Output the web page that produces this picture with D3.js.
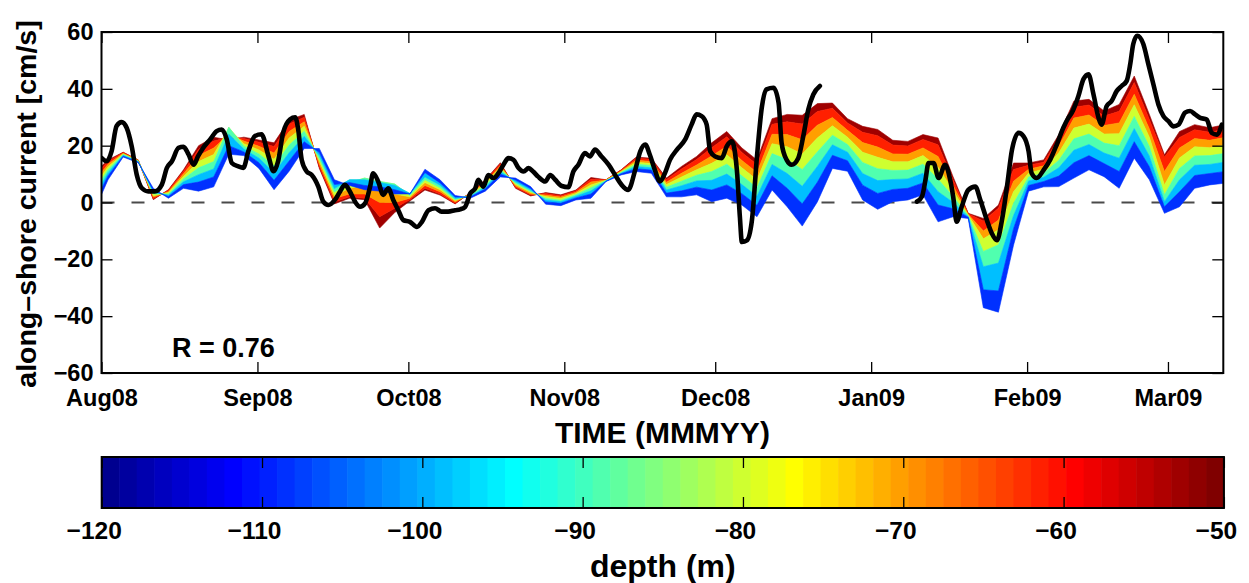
<!DOCTYPE html>
<html><head><meta charset="utf-8">
<script src="https://cdn.jsdelivr.net/npm/d3@7"></script>
<style>
body{margin:0;background:#fff;}
text{font-family:"Liberation Sans",Arial,Helvetica,sans-serif;font-weight:bold;fill:#000;}
</style>
</head><body>
<svg id="chart" width="1249" height="583"></svg>
<script>
// ---------- DATA ----------
// Profile samples every 3 days, first sample 2008-07-30 07:12 UTC
const profileStart = Date.UTC(2008, 6, 30, 7, 12);
const profileStepDays = 3;
// along-shore velocity (cm/s) at each depth level, deepest first
const vel114 = [-4,8,16,14,5,1.5,5,4,5.5,17, 16.5,12,4.5,11,19,19,8,6,4.5,4, 3,3,11.7,8,2.5,1.5,4,9,8.6,5.6, -0.6,-1.1,0.9,1.5,7.4,9.7,10.9,10.3,2,2, 2.7,0.3,1.5,-0.9,-5,4.4,-1.5,-8.3,0.2,12, 11,0.9,-2.4,0.3,0.9,2.7,-6.8,-5,-5.6,-37, -38.6,-15,4,5.5,5.6,8.6,11.5,9.1,5,15.6, 8,-3.8,-1.5,5,6.2,6.8];
const vel104 = [-1.2,9.4,16.3,14.2,4.2,2.1,6.3,7.2,9,20, 17.8,14,7.8,14.6,21.4,17.6,6.3,7,6,5.5, 4.5,3,10.5,6.9,1.9,1.9,4.8,10,7.9,4.9, 0.2,-0.3,1.6,3,7.5,10.1,11.9,11.4,3.3,4.1, 5.4,4.4,6.2,3.1,-1,9.4,5,-0.5,7.1,16.6, 14.7,6.1,3.2,4.6,5,6.9,-0.9,-2.2,-5.2,-30.7, -31.1,-9.2,6,7.4,9.3,14,16.5,13.7,10.9,21.4, 12.6,-1.5,3.8,9.5,10.2,10.9];
const vel94 = [1,10.5,16.6,14.4,3.6,2.6,7.3,9.8,11.8,24, 18.8,15.6,10.4,17.5,23.3,16.5,4.9,8,8,7, 6,3.2,9,6.1,1.4,2.2,5.4,10.8,7.3,4.4, 0.9,0.3,2.2,4.1,7.6,10.3,12.7,12.2,4.4,5.9, 7.6,7.8,10,6.3,2.2,13.4,10.2,5.7,12.7,20.3, 17.7,10.2,7.7,8.1,8.3,10.3,3.8,0,-5,-22.6, -21.3,-4.6,7.6,8.9,12.2,18.4,20.4,17.4,15.6,26, 16.3,0.3,8,13.1,13.4,14.2];
const vel85 = [3.1,11.6,16.9,14.5,3,3,8.3,12.2,14.4,26.5, 19.8,17.1,12.9,20.2,25.1,15.4,3.7,7,8.6,7.4, 6.5,2.5,8,5.2,1,2.5,6,11.6,6.8,3.9, 1.5,0.8,2.7,5.2,7.7,10.6,13.5,13,5.4,7.5, 9.6,10.9,13.5,9.4,5.2,17.2,15.1,11.6,17.8,23.7, 20.4,14.1,11.9,11.3,11.4,13.5,8.2,2.1,-4.7,-17.2, -14.9,-0.3,9,10.3,14.9,22.4,24.1,20.9,20,30.3, 19.7,2.7,12,16.4,16.5,17.3];
const vel75 = [5.1,12.6,17.1,14.7,2.4,3.5,9.2,14.4,16.9,26, 20.7,18.5,15.2,22.7,26.8,14.5,2.5,5,6,4, 3,2,7,4.5,0.6,2.8,6.6,12.3,6.3,3.5, 2.1,1.4,3.2,6.2,7.8,10.9,14.2,13.7,6.3,9, 11.5,13.8,16.8,12.2,8,20.7,19.6,17.1,22.7,27, 23,17.7,15.9,14.3,14.3,16.5,12.4,4.1,-4.4,-12.8, -9.6,3.8,10.4,11.7,17.5,26.2,27.6,24.1,24.2,34.4, 23,6.2,15.7,19.6,19.3,20.2];
const vel66 = [6.9,13.5,17.3,14.8,1.9,3.8,10.1,16.5,19.2,24, 21.6,19.8,17.4,25,28.4,13.5,1.4,3,3,0, 0,1.5,6,3.8,0.2,3.1,7.1,12.9,5.8,3, 2.6,1.9,3.6,7.2,7.9,11.1,14.9,14.4,7.1,10.3, 13.2,16.4,19.8,14.8,10.6,24,23.9,22.1,27.2,29.9, 25.4,21.1,19.5,17.1,17,19.2,16.2,5.9,-4.2,-10, -6.2,7.5,11.7,12.9,19.9,29.7,30.8,27.1,28,38.1, 25.9,10.9,19.2,22.5,21.9,22.9];
const vel57 = [8.9,14.4,17.6,14.9,1.3,4.3,11,18.7,21.6,23, 22.5,21.2,19.7,27.6,30,12.6,0.2,2,1.5,-5, -2,1,5,3,-0.3,3.3,7.7,13.6,5.3,2.6, 3.2,2.4,4.1,8.2,8,11.4,15.6,15.2,8.1,11.8, 15.1,19.3,23.1,17.6,13.4,27.5,28.4,27.6,32,33.2, 28,24.7,23.5,20.2,19.9,22.2,20.3,7.9,-4,-6.5, -2,11.6,13.1,14.2,22.4,33.5,34.3,30.4,32.1,42.2, 29.2,16,22.9,25.6,24.7,25.8];
const vel50 = [10,15,17.7,15,1,4.5,11.5,20,23,22, 23,22,21,29,31,12,-0.5,1.5,1,-9, -3.5,0.5,4.4,2.6,-0.5,3.5,8,14,5,2.3, 3.5,2.7,4.4,8.8,8,11.5,16,15.6,8.6,12.7, 16.2,21,25,19.2,15,29.5,31,30.7,34.8,35, 29.5,26.8,25.7,21.9,21.5,23.9,22.7,9,-3.8,-5.6, -0.9,13.9,13.9,15,23.9,35.7,36.3,32.2,34.5,44.5, 31,16.8,25,27.4,26.3,27.4];
// colour (depth, m) of the band between consecutive levels
const bandDepths = [-109, -99, -89, -80, -70, -61, -53];

// observed along-shore current: days after 2008-08-01 and value (cm/s); null = gap
const obsDay = [0,1,2,3,4,5,6,7,8,9.3, 10.6,12,13,14,15.3,16.3,17.3,18.3,19.2,20.2, 21.6,22.9,23.9,24.9,25.9,27.2,28.2,29.2,30.5,31.8, 33.2,34.2,35.1,36.1,37.5,38.5,39.1,39.8,40.8,41.8, 43.1,44.1,45.1,46.4,47.4,48.4,49.4,50.4,51.4,52.4, 53.4,54,55,56,57,58,59,60,61.3,62.7, 63.7,65,66.3,67.6,68.9,70.3,71.3,72.3,73.3,74.3, 74.9,75.9,76.9,77.9,78.9,79.9,80.9,81.9,82.9,83.9, 84.9,85.8,86.8,88.2,89.2,90.2,91.5,92.8,93.8,94.8, 96.1,97.1,98.1,99.4,100.8,102.1,103.4,104.7,106.1,107.1, 108.1,109,110,111,112,113,114.4,116,117.3,118.3, 119.3,120.3,121,122,123.3,124.3,125.3,126.3,126.9,127.3, 128.3,129.3,130.3,131.3,132.2,133.6,134.6,135.2,136.2,137.2, 138.5,139.5,140.5,141.5,142.8,152, 162.1,163.1,163.8,164.4,165.4,166.4,167.7,168.7,169.3,170, 171,172.3,173.7,174.7,176,177,178,179,180,181, 182.3,183.3,184.3,184.9,185.9,187.3,188.6,189.9,191.2,192.2, 192.9,194.2,195.2,196.2,197.2,198.2,198.8,199.8,200.8,201.8, 202.8,203.8,204.5,205.1,205.9,207.1,208.1,209.1,210.1,211.1, 212.1,213.1,214.1,215.4,216.4,217.4,218.4,219.7,220.7,221.7, 222.7];
const obsVal = [15.7,14.5,18,26.9,28.3,26.3,19.8,9.8,5.1,3.9, 3.9,6.3,12.2,14.5,19.2,19.6,16.9,13.3,16.3,19.2, 22.2,25.1,25.7,22.2,13.9,12.7,12.2,18.1,23.4,24, 16.3,11,14.5,24.5,29.3,30,25.7,15,10.9,9.7, 5.6,0.3,-0.9,0.9,3.8,6.2,3.8,0.3,-1.5,-0.3, 5.6,10.3,7.4,2.7,5,0.9,-2.7,-6.2,-6.8,-8.6, -6.8,-2.7,-2,-3.2,-3.2,-2.7,-2.4,-1.5,3.2,5, 8,5.6,9.7,8.6,10.3,13.3,15.6,15,12.1,10.9, 12.1,10.9,9.1,7.4,9.7,8,5.8,5.4,10.9,13.3, 17.4,16.2,18.6,16.2,13.3,9.7,6.2,4.4,11.5,18, 20.4,16.8,11.5,7.4,10.3,15,18.6,22.1,27.4,31, 30.4,27.4,18,16.2,15.6,19.8,21.5,11.5,-5,-13.9, -13.3,-6.2,16.2,33.9,39.8,40.4,35.1,20.9,15,13.3, 15.6,23.3,32.7,38,41,null, 0.3,2.1,8,13.9,13.9,8.6,13.3,8,2.1,-6.8, -1.5,4.4,5.6,0.9,-6.2,-10.9,-13.3,-6.2,5.6,18.6, 24.5,23.3,18,10.3,8.6,11.5,15.1,20.4,26.3,29.8, 31.6,37.5,43.4,45.1,38,29.8,27.4,33.9,35.7,39.2, 41,42.8,48.7,55.8,58.7,55.8,48.7,41.6,34.5,30.4, 28.6,26.8,27.4,31.6,32.2,31,29.8,29.2,24.5,23.9, 27.4];

const yTicks = [-60, -40, -20, 0, 20, 40, 60];
const depthTicks = [-120, -110, -100, -90, -80, -70, -60, -50];
const rText = "R = 0.76";

// ---------- LAYOUT ----------
const L = 101.5, R = 1223.3, T = 32, B = 373;
const CB = {x0: 101.7, x1: 1223.9, y0: 457, y1: 508};
const DAY = 864e5;
const t0 = Date.UTC(2008, 7, 1);
const FONT = '"Liberation Sans",Arial,sans-serif';

const svg = d3.select("#chart");
const x = d3.scaleUtc().domain([new Date(t0), new Date(Date.UTC(2009, 2, 12))]).range([L, R]);
const y = d3.scaleLinear().domain([-60, 60]).range([B, T]);

// MATLAB jet(64)
function jet64(i) {
  const u = j => j < 1 ? 0 : j <= 16 ? j / 16 : j <= 31 ? 1 : j <= 47 ? (48 - j) / 16 : 0;
  const n = i + 1;
  const r = u(n - 24), g = u(n - 8), b = u(n + 8);
  return d3.rgb(r * 255, g * 255, b * 255).formatHex();
}
const cScale = d3.scaleLinear().domain([-120, -50]).range([0, 64]);
const depthColor = d => jet64(Math.max(0, Math.min(63, Math.floor(cScale(d)))));

svg.append("defs").append("clipPath").attr("id", "plotclip")
  .append("rect").attr("x", L).attr("y", T).attr("width", R - L).attr("height", B - T);

// zero line
svg.append("line").attr("x1", L).attr("x2", R).attr("y1", y(0)).attr("y2", y(0))
  .attr("stroke", "#4a4a4a").attr("stroke-width", 2).attr("stroke-dasharray", "13,17");

// bands (shallow bands first so deeper ones sit on top where the profile folds)
const levels = [vel114, vel104, vel94, vel85, vel75, vel66, vel57, vel50];
const pDates = vel114.map((_, i) => new Date(profileStart + i * profileStepDays * DAY));
const gBands = svg.append("g").attr("clip-path", "url(#plotclip)");
d3.range(bandDepths.length).reverse().forEach(j => {
  const lo = levels[j], hi = levels[j + 1];
  const area = d3.area().x((_, i) => x(pDates[i])).y0((_, i) => y(lo[i])).y1((_, i) => y(hi[i]));
  const col = depthColor(bandDepths[j]);
  gBands.append("path").attr("d", area(lo)).attr("fill", col)
    .attr("stroke", col).attr("stroke-width", 0.6).attr("stroke-linejoin", "round");
});

// observation line
const obs = obsDay.map((d, i) => ({t: new Date(t0 + d * DAY), v: obsVal[i]}));
const line = d3.line().defined(p => p.v !== null).x(p => x(p.t)).y(p => y(p.v)).curve(d3.curveMonotoneX);
svg.append("g").attr("clip-path", "url(#plotclip)").append("path").attr("d", line(obs))
  .attr("fill", "none").attr("stroke", "#000").attr("stroke-width", 4.6)
  .attr("stroke-linejoin", "round").attr("stroke-linecap", "round");

// axes
const months = d3.utcMonth.range(new Date(t0), new Date(Date.UTC(2009, 2, 12)));
const ax = svg.append("g").attr("transform", `translate(0,${B})`)
  .call(d3.axisBottom(x).tickValues(months).tickFormat(d3.utcFormat("%b%y")).tickSizeInner(-11).tickSizeOuter(0).tickPadding(16));
const ayl = svg.append("g").attr("transform", `translate(${L},0)`)
  .call(d3.axisLeft(y).tickValues(yTicks).tickSizeInner(-11).tickSizeOuter(0).tickPadding(8));
const axt = svg.append("g").attr("transform", `translate(0,${T})`)
  .call(d3.axisTop(x).tickValues(months).tickFormat("").tickSizeInner(-11).tickSizeOuter(0));
const ayr = svg.append("g").attr("transform", `translate(${R},0)`)
  .call(d3.axisRight(y).tickValues(yTicks).tickFormat("").tickSizeInner(-11).tickSizeOuter(0));
[ax, ayl, axt, ayr].forEach(g => {
  g.select(".domain").remove();
  g.selectAll(".tick line").attr("stroke", "#000").attr("stroke-width", 1.3);
  g.selectAll("text").attr("font-size", 23.5).attr("font-family", FONT).attr("font-weight", "bold").attr("fill", "#000");
});
svg.append("rect").attr("x", L).attr("y", T).attr("width", R - L).attr("height", B - T)
  .attr("fill", "none").attr("stroke", "#000").attr("stroke-width", 2);

// labels
svg.append("text").attr("transform", `translate(36,204) rotate(-90)`).attr("text-anchor", "middle")
  .attr("font-size", 28.5).text("along–shore current [cm/s]");
svg.append("text").attr("x", (L + R) / 2).attr("y", 443).attr("text-anchor", "middle")
  .attr("font-size", 30).text("TIME (MMMYY)");
svg.append("text").attr("x", 172).attr("y", 357).attr("font-size", 27).text(rText);

// colorbar
const cx = d3.scaleLinear().domain([-120, -50]).range([CB.x0, CB.x1]);
const cw = (CB.x1 - CB.x0) / 64;
d3.range(64).forEach(i => {
  svg.append("rect").attr("x", CB.x0 + i * cw).attr("y", CB.y0).attr("width", cw + 0.6).attr("height", CB.y1 - CB.y0)
    .attr("fill", jet64(i));
});
svg.append("rect").attr("x", CB.x0).attr("y", CB.y0).attr("width", CB.x1 - CB.x0).attr("height", CB.y1 - CB.y0)
  .attr("fill", "none").attr("stroke", "#000").attr("stroke-width", 2);
const cbAxis = svg.append("g").attr("transform", `translate(0,${CB.y1})`)
  .call(d3.axisBottom(cx).tickValues(depthTicks).tickSizeInner(-11).tickSizeOuter(0).tickPadding(14));
const cbTop = svg.append("g").attr("transform", `translate(0,${CB.y0})`)
  .call(d3.axisTop(cx).tickValues(depthTicks).tickFormat("").tickSizeInner(-11).tickSizeOuter(0));
[cbAxis, cbTop].forEach(g => {
  g.select(".domain").remove();
  g.selectAll(".tick line").attr("stroke", "#000").attr("stroke-width", 1.3);
  g.selectAll("text").attr("font-size", 24.5).attr("font-family", FONT).attr("font-weight", "bold").attr("fill", "#000");
});
cbAxis.selectAll(".tick text").attr("dx", -8);
svg.append("text").attr("x", (CB.x0 + CB.x1) / 2).attr("y", 577).attr("text-anchor", "middle")
  .attr("font-size", 32).text("depth (m)");
</script>
</body></html>
